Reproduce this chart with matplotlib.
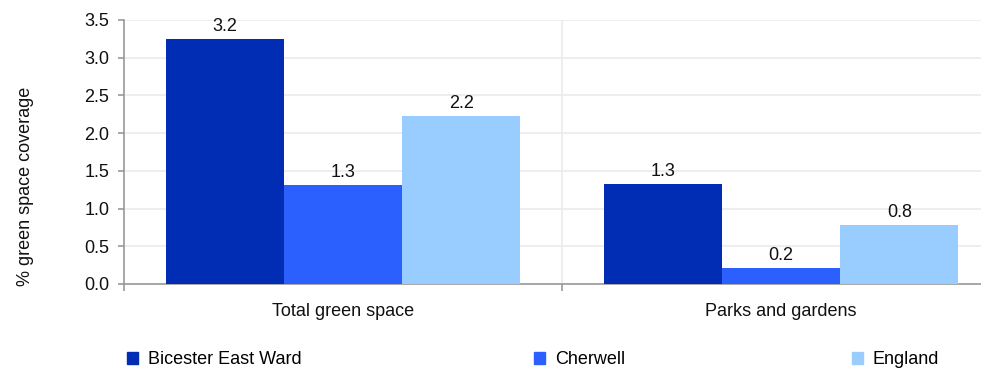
import matplotlib
matplotlib.use("Agg")
import matplotlib.pyplot as plt
import numpy as np
from matplotlib.patches import Patch

plt.rcParams['font.family'] = ['Liberation Sans', 'DejaVu Sans']

categories = ["Total green space", "Parks and gardens"]
series_names = ["Bicester East Ward", "Cherwell", "England"]
bicester = [3.25, 1.33]
cherwell = [1.31, 0.21]
england = [2.23, 0.78]
colors = ["#002DB3", "#2B60FF", "#99CCFF"]
yticks = [0.0, 0.5, 1.0, 1.5, 2.0, 2.5, 3.0, 3.5]

FS = 13
TXT = '#111111'

fig = plt.figure(figsize=(9.81, 3.68), dpi=100)
ax = fig.add_axes([124/981, (368-284)/368, (1000-124)/981, 264/368])

x = np.arange(len(categories))
w = 0.27
all_series = [bicester, cherwell, england]
for i, (vals, c) in enumerate(zip(all_series, colors)):
    pos = x + (i - 1) * w
    bars = ax.bar(pos, vals, width=w, color=c, zorder=3, linewidth=0)
    for b, v in zip(bars, vals):
        ax.text(b.get_x() + b.get_width()/2, v + 0.05, f"{v:.1f}",
                ha='center', va='bottom', fontsize=FS, color=TXT, zorder=4)

ax.set_xlim(-0.5, 1.5)
ax.set_ylim(0, 3.5)
ax.set_yticks(yticks)
ax.set_yticklabels([f"{t:.1f}" for t in yticks])
ax.yaxis.grid(True, color='#ebebeb', linewidth=1.2, zorder=0)
ax.axvline(0.5, color='#ebebeb', linewidth=1.2, zorder=0)
ax.set_xticks(x)
ax.set_xticklabels(categories)
ax.set_xticks([-0.5, 0.5, 1.5], minor=True)
ax.tick_params(axis='x', which='major', length=0, pad=14, labelsize=FS, colors=TXT)
ax.tick_params(axis='x', which='minor', length=5, color='#999999', width=1.2)
ax.tick_params(axis='y', length=4.5, color='#999999', width=1.2, labelsize=FS, labelcolor=TXT, pad=6)
for s in ['top', 'right']:
    ax.spines[s].set_visible(False)
for s in ['left', 'bottom']:
    ax.spines[s].set_color('#999999')
    ax.spines[s].set_linewidth(1.2)
ax.set_ylabel("% green space coverage", fontsize=FS, color=TXT)
ax.yaxis.set_label_coords((34-124)/876, (284-186)/264)

legend_x = [127/981, 534/981, 852/981]
for name, c, lx in zip(series_names, colors, legend_x):
    fig.legend(handles=[Patch(color=c, label=name)], loc='center left',
               bbox_to_anchor=(lx, 1 - 360/368), frameon=False, fontsize=FS,
               handlelength=0.63, handleheight=0.63, handletextpad=0.52,
               borderaxespad=0, borderpad=0)

fig.savefig("out.png", dpi=100)
